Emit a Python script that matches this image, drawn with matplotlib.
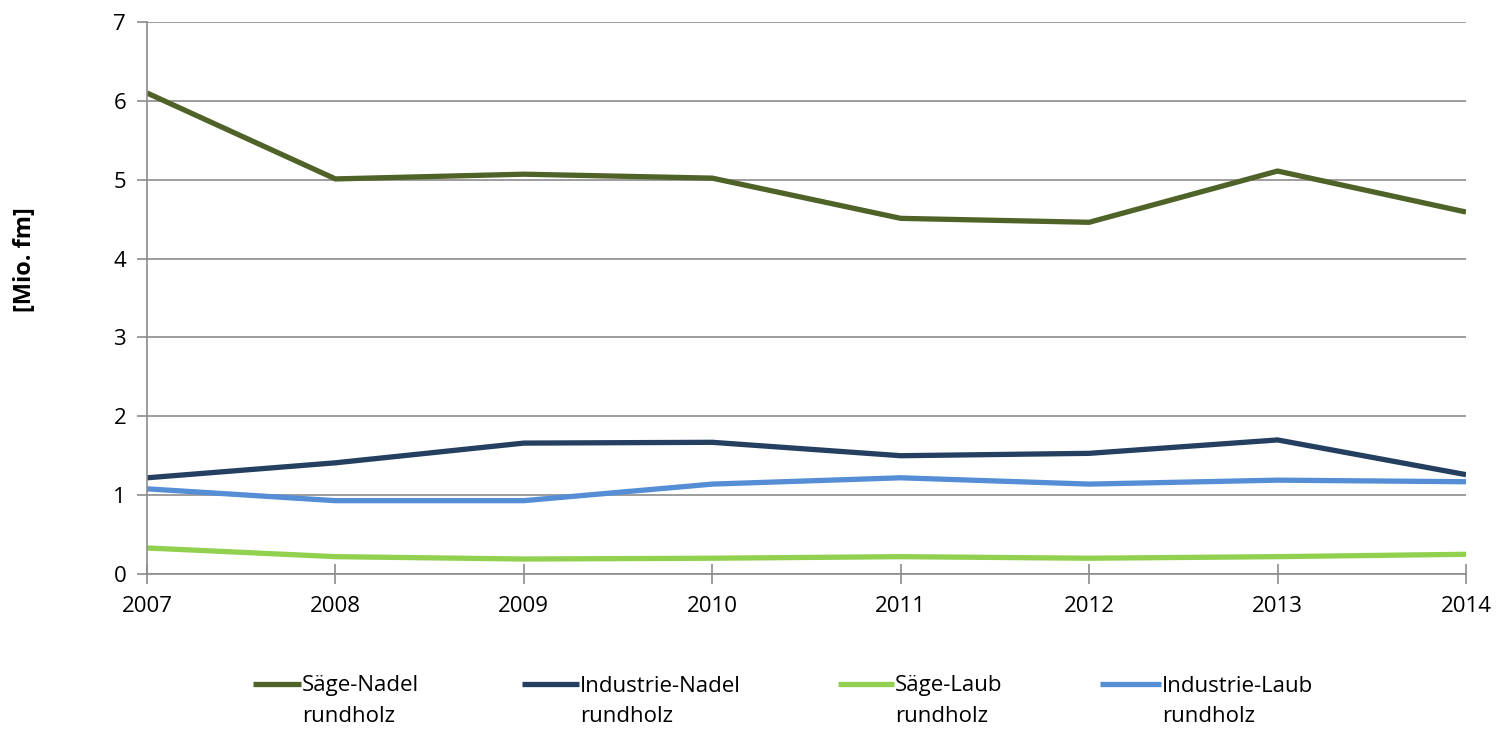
import matplotlib.pyplot as plt
import numpy as np

plt.rcParams['font.family'] = ['Open Sans', 'DejaVu Sans']

# Daten [Mio. fm]
jahre = [2007, 2008, 2009, 2010, 2011, 2012, 2013, 2014]
saege_nadel = [6.10, 5.01, 5.07, 5.02, 4.51, 4.46, 5.11, 4.59]
industrie_nadel = [1.22, 1.41, 1.66, 1.67, 1.50, 1.53, 1.70, 1.26]
saege_laub = [0.33, 0.22, 0.19, 0.20, 0.22, 0.20, 0.22, 0.25]
industrie_laub = [1.08, 0.93, 0.93, 1.14, 1.22, 1.14, 1.19, 1.17]

labels = ['Säge-Nadel\nrundholz', 'Industrie-Nadel\nrundholz',
          'Säge-Laub\nrundholz', 'Industrie-Laub\nrundholz']
farben = ['#4F6228', '#243F60', '#92D050', '#558ED5']
reihen = [saege_nadel, industrie_nadel, saege_laub, industrie_laub]

W, H = 1497, 729
fig = plt.figure(figsize=(W/100, H/100), dpi=100)
ax = fig.add_axes([147/W, 1 - 574/H, (1466-147)/W, (574-22)/H])

linien = []
for werte, farbe in zip(reihen, farben):
    l, = ax.plot(jahre, werte, color=farbe, linewidth=3.8, solid_capstyle='butt')
    linien.append(l)

ax.set_xlim(2007, 2014)
ax.set_ylim(0, 7)
ax.set_yticks(range(0, 8))
ax.set_xticks(jahre)
ax.yaxis.grid(True, color='#8c8c8c', linewidth=1.2)
ax.set_axisbelow(True)
for s in ['top', 'right']:
    ax.spines[s].set_visible(False)
for s in ['left', 'bottom']:
    ax.spines[s].set_color('#8c8c8c')
    ax.spines[s].set_linewidth(1.2)
ax.tick_params(axis='y', direction='out', length=7, width=1.2, color='#8c8c8c',
               labelsize=16, pad=8)
ax.tick_params(axis='x', direction='inout', length=14, width=1.2, color='#8c8c8c',
               labelsize=16, pad=9)

fig.text(25/W, 1 - 260/H, '[Mio. fm]', rotation=90, fontsize=17,
         fontweight='bold', ha='center', va='center')

# Legende: vier einzelne Einträge, zweite Zeile darunter
legend_x = [253, 522, 838, 1100]
handle_len = [2.15, 2.55, 2.5, 2.75]
legenden = []
for l, lab, x, hl in zip(linien, labels, legend_x, handle_len):
    zeile1 = lab.split('\n')[0]
    leg = fig.legend([l], [zeile1], loc='center left',
                     bbox_to_anchor=(x/W, 1 - 686/H), frameon=False,
                     fontsize=16, handlelength=hl, handletextpad=0.05,
                     borderpad=0, borderaxespad=0)
    legenden.append(leg)

fig.canvas.draw()
for leg, lab in zip(legenden, labels):
    zeile2 = lab.split('\n')[1]
    bb = leg.get_texts()[0].get_window_extent()
    fig.text(bb.x0/W, 1 - 717/H, zeile2, fontsize=16, ha='left', va='center')

fig.savefig('out.png', dpi=100)
